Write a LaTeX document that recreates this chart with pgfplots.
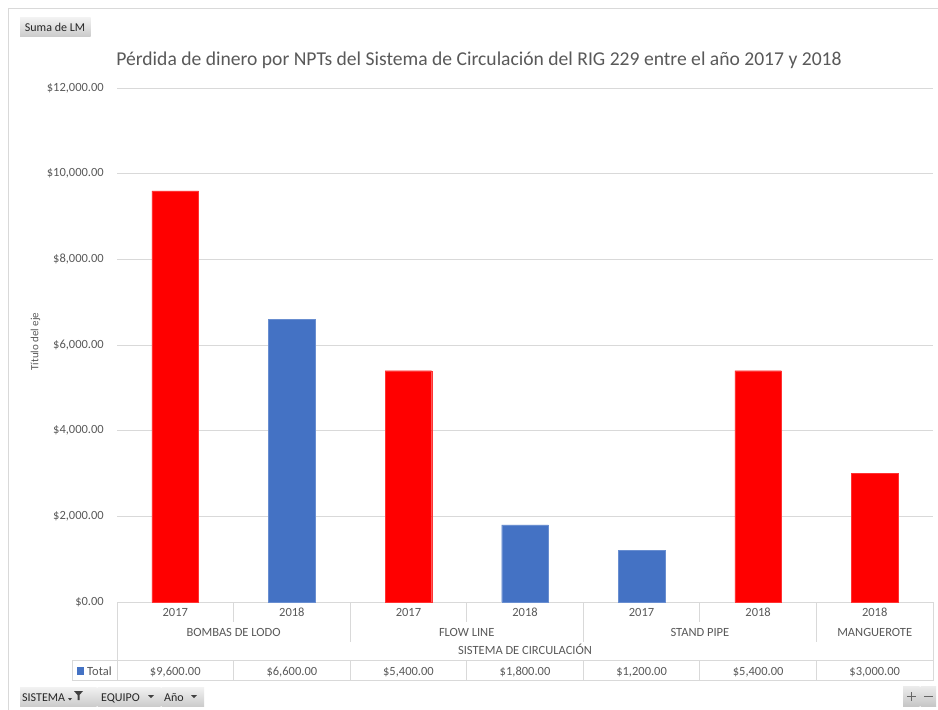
\documentclass[border=0pt]{standalone}
\usepackage{fontspec}
\setmainfont{Carlito}
\usepackage{pgfplots}
\pgfplotsset{compat=1.18}
\definecolor{txt}{HTML}{595959}
\definecolor{gridc}{HTML}{D9D9D9}
\definecolor{bl}{HTML}{4472C4}
\definecolor{rd}{HTML}{FF0000}
\newcommand{\fs}[1]{\fontsize{#1}{#1}\selectfont}
\begin{document}
\begin{tikzpicture}
\path[use as bounding box, fill=white] (0pt,0pt) rectangle (938pt,-710pt);
\begin{scope}[x=1pt,y=-1pt]
% outer frame
\draw[gridc,line width=0.8pt] (8,710) -- (8,8) -- (938,8);
% Suma de LM button
\shade[top color=gray!10,bottom color=gray!40] (20,17.5) rectangle (90.5,36);
\node[anchor=base,inner sep=0pt,text=black!85] at (55,31) {\fs{12}Suma de LM};
% title
\node[anchor=base,inner sep=0pt,text=txt] at (479,65) {\fs{19.6}Pérdida de dinero por NPTs del Sistema de Circulación del RIG 229 entre el año 2017 y 2018};
% y label
\node[rotate=90,inner sep=0pt,text=txt] at (35.5,341.5) {\fs{11}Título del eje};
\end{scope}
\begin{axis}[
  at={(117pt,-602pt)}, anchor=south west,
  scale only axis, width=816pt, height=514pt,
  xmin=-0.5, xmax=6.5, ymin=0, ymax=12000,
  axis line style={draw=none},
  ymajorgrids, xmajorgrids=false, grid style={draw=gridc, line width=0.8pt},
  scaled y ticks=false,
  /pgf/number format/assume math mode=true,
  ytick={0,2000,4000,6000,8000,10000,12000},
  yticklabels={{\$0.00},{\$2,000.00},{\$4,000.00},{\$6,000.00},{\$8,000.00},{\$10,000.00},{\$12,000.00}},
  yticklabel style={anchor=east, inner sep=0pt, xshift=-13pt, text=txt, font=\fs{12.5}},
  xtick={0,...,6},
  xticklabels={2017,2018,2017,2018,2017,2018,2018},
  xticklabel style={anchor=base, inner sep=0pt, yshift=-14pt, text=txt, font=\fs{12.5}},
  major tick length=0pt,
  ybar, bar width=46.6pt,
  clip=false,
]
\addplot[ybar, bar shift=0pt, fill=rd, draw=rd!80!white] coordinates {(0,9600) (2,5400) (5,5400) (6,3000)};
\addplot[ybar, bar shift=0pt, fill=bl, draw=bl!80!white] coordinates {(1,6600) (3,1800) (4,1200)};
\end{axis}
\begin{scope}[x=1pt,y=-1pt]
% category table lines
\begin{scope}[gridc,line width=0.8pt]
\draw (117,602) -- (117,681);
\draw (933,602) -- (933,681);
\foreach \k in {1,3,5} \draw ({117+116.571*\k},602) -- ({117+116.571*\k},622);
\foreach \k in {2,4,6} \draw ({117+116.571*\k},602) -- ({117+116.571*\k},642);
\draw (72,660.5) -- (933,660.5);
\draw (72,680.5) -- (933,680.5);
\draw (72,660.5) -- (72,680.5);
\foreach \k in {1,...,6} \draw ({117+116.571*\k},660.5) -- ({117+116.571*\k},680.5);
\end{scope}
\begin{scope}[every node/.style={anchor=base,inner sep=0pt,text=txt,font=\fs{12.5}}]
\node at (233.6,636) {BOMBAS DE LODO};
\node at (466.7,636) {FLOW LINE};
\node at (699.9,636) {STAND PIPE};
\node at (874.7,636) {MANGUEROTE};
\node at (525,654) {SISTEMA DE CIRCULACIÓN};
\foreach \k/\v in {0/{\$9,600.00},1/{\$6,600.00},2/{\$5,400.00},3/{\$1,800.00},4/{\$1,200.00},5/{\$5,400.00},6/{\$3,000.00}}
  \node at ({175.3+116.571*\k},675) {\v};
\node[anchor=base west] at (87,675) {Total};
\end{scope}
\fill[bl] (77,667) rectangle (84,675);
% bottom buttons
\shade[top color=gray!10,bottom color=gray!40] (20,687) rectangle (96.5,706);
\shade[top color=gray!10,bottom color=gray!40] (97.5,687) rectangle (160.5,706);
\shade[top color=gray!10,bottom color=gray!40] (161.5,687) rectangle (204,706);
\begin{scope}[every node/.style={anchor=base west,inner sep=0pt,text=black!85,font=\fs{12}}]
\node at (22,701) {SISTEMA};
\node at (101,701) {EQUIPO};
\node at (164,701) {Año};
\end{scope}
\fill[black!75] (68,698) -- (72,698) -- (70,700.5) -- cycle;
\fill[black!75] (74,691) -- (83,691) -- (79.5,695) -- (79.5,700) -- (77.5,700) -- (77.5,695) -- cycle;
\fill[black!75] (148,695) -- (154,695) -- (151,698) -- cycle;
\fill[black!75] (191,695) -- (197,695) -- (194,698) -- cycle;
\shade[top color=gray!15,bottom color=gray!45] (903,686) rectangle (919.5,706.5);
\shade[top color=gray!15,bottom color=gray!45] (920.5,686) rectangle (936,706.5);
\draw[black!60,line width=1.1pt] (907,696.5) -- (915.5,696.5) (911.25,692.2) -- (911.25,700.8);
\draw[black!60,line width=1.1pt] (924,696.5) -- (932.5,696.5);
\end{scope}
\end{tikzpicture}
\end{document}
